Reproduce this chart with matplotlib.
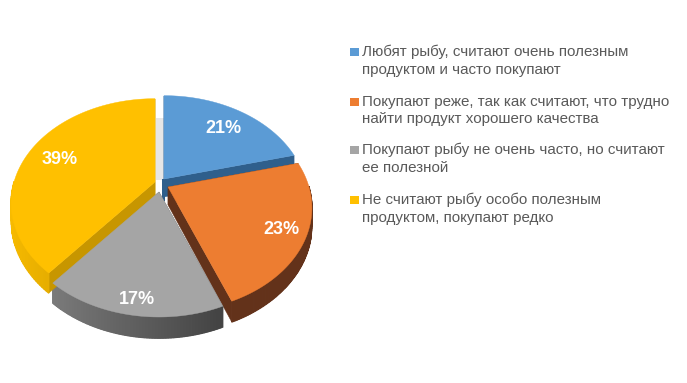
import numpy as np
import matplotlib
matplotlib.use('Agg')
import matplotlib.pyplot as plt
from matplotlib.patches import Polygon, Rectangle

# data
values = [21, 23, 17, 39]
labels = ['21%', '23%', '17%', '39%']
legend_lines = ['Любят рыбу, считают очень полезным\nпродуктом и часто покупают',
                'Покупают реже, так как считают, что трудно\nнайти продукт хорошего качества',
                'Покупают рыбу не очень часто, но считают\nее полезной',
                'Не считают рыбу особо полезным\nпродуктом, покупают редко']
colors = ['#5B9BD5', '#ED7D31', '#A5A5A5', '#FFC000']
wall_colors = ['#2F5F8C', '#63321A', '#5A5A5A', '#C79600']

# slice tips in pixels (each slice is pulled out on its own)
tips = [(164, 179), (168, 187), (159, 192), (155, 182)]

# fake perspective of the 3d pie
a, b, k = 141, 100, 0.2
depth = 17
tip_d = 18


def project(theta, r=1.0):
    u, v = np.sin(theta) * r, np.cos(theta) * r
    w = 1 / (1 + k * v)
    return a * u * w, -b * v * w, w


fig = plt.figure(figsize=(6.87, 3.83), dpi=100)
ax = fig.add_axes([0, 0, 1, 1])
ax.set_xlim(0, 687)
ax.set_ylim(383, 0)
ax.axis('off')

edges = np.radians(np.cumsum([0] + values) * 3.6)

# light strip behind the gap next to the blue slice
ax.add_patch(Rectangle((156, 118), 8, 62, fc='#E6E6E6', ec='none', zorder=0.5))
ax.add_patch(Rectangle((162, 179), 3, 22, fc=wall_colors[0], ec='none', zorder=0.6))

# back to front so the near slices cover the far walls
for i in [0, 3, 1, 2]:
    th = np.linspace(edges[i], edges[i + 1], 120)
    tx, ty = tips[i]
    px, py, pw = project(th)
    xs, ys = tx + px, ty + py
    d = depth * pw * np.clip(-np.cos(th) / 0.3, 0, 1)
    end_d = depth * pw

    # walls of the cuts
    for end in [0, -1]:
        quad = [(tx, ty), (xs[end], ys[end]), (xs[end], ys[end] + end_d[end]), (tx, ty + tip_d)]
        ax.add_patch(Polygon(quad, closed=True, fc=wall_colors[i], ec=wall_colors[i], lw=0.3, zorder=i + 1))

    # outer rim, shaded piece by piece
    base = np.array(matplotlib.colors.to_rgb(wall_colors[i]))
    for n in range(len(th) - 1):
        if d[n] <= 0 and d[n + 1] <= 0:
            continue
        shade = 1.0 + 0.25 * max(0, -np.sin(th[n]))
        if i == 2:
            shade = 0.75 + 0.62 * max(0, -np.sin(th[n]) + 0.35)
        c = np.clip(base * shade, 0, 1)
        quad = [(xs[n], ys[n]), (xs[n + 1], ys[n + 1]), (xs[n + 1], ys[n + 1] + d[n + 1]), (xs[n], ys[n] + d[n])]
        ax.add_patch(Polygon(quad, closed=True, fc=c, ec=c, lw=0.9, zorder=i + 1))

zorders = {0: 10, 3: 11, 1: 12, 2: 13}
for i in range(4):
    th = np.linspace(edges[i], edges[i + 1], 120)
    px, py, pw = project(th)
    tx, ty = tips[i]
    pts = np.column_stack([np.r_[tx, tx + px], np.r_[ty, ty + py]])
    ax.add_patch(Polygon(pts, closed=True, fc=colors[i], ec=colors[i], lw=0.3, zorder=zorders[i]))

# percent labels
label_r = [0.75, 0.83, 0.88, 0.76]
for i in range(4):
    mid = (edges[i] + edges[i + 1]) / 2
    px, py, pw = project(mid, label_r[i])
    ax.text(tips[i][0] + px + 1, tips[i][1] + py + 2, labels[i], color='white', fontsize=13,
            fontweight='bold', family='Liberation Sans', ha='center', va='center', zorder=20)

# legend
legend_top = [45, 95, 143, 193]
for i in range(4):
    ax.add_patch(Rectangle((350, legend_top[i] + 3), 9, 8, fc=colors[i], ec='none', zorder=20))
    ax.text(362, legend_top[i], legend_lines[i], color='#595959', fontsize=10.9,
            family='Liberation Sans', ha='left', va='top', linespacing=1.3, zorder=20)

fig.savefig('out.png', dpi=100)
